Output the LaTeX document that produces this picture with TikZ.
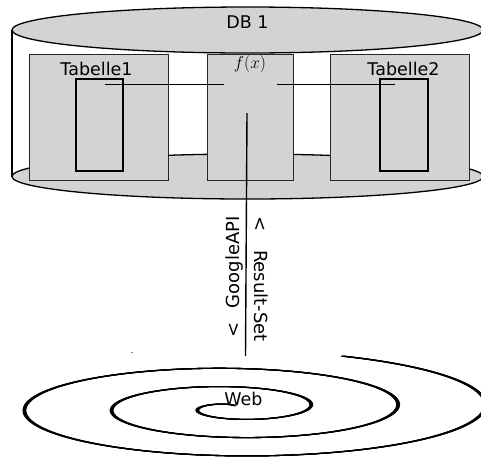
\documentclass[tikz,border=0pt]{standalone}
\usepackage{fontspec}
\setmainfont{DejaVu Sans}
\definecolor{dbgray}{RGB}{211,211,211}
\begin{document}
\begin{tikzpicture}[x=1pt,y=-1pt,
  disc/.style={fill=dbgray,draw=black,line width=1.3pt},
  tablebox/.style={draw=black!85,fill=dbgray,line width=1pt,inner sep=0pt},
  keybox/.style={draw=black,line width=1.4pt,inner sep=0pt},
  link/.style={draw=black,line width=1.4pt},
  lbl/.style={inner sep=0pt,font=\fontsize{17.5}{20}\selectfont},
  sidelbl/.style={inner sep=0pt,font=\fontsize{18}{21}\selectfont},
  spiralpen/.style={draw=black,line width=1.1pt,line join=round}]
\useasboundingbox (0,0) rectangle (481,456);
\fill[white] (0,0) rectangle (481,456);
\clip (0,0) rectangle (481,456);

% database cylinder
\draw[disc] (247.5,176.5) ellipse [x radius=235.5, y radius=22.5];
\draw[black,line width=1.3pt] (12,30) -- (12,176.5);
\draw[disc] (247.5,30) ellipse [x radius=235.5, y radius=23];
\node[lbl] (db) at (247.5,22) {DB 1};

% tables and function
\node[tablebox,minimum width=139pt,minimum height=126pt] (t1) at (98.5,117.5) {};
\node[tablebox,minimum width=86pt,minimum height=126pt] (fx) at (250,117.5) {};
\node[tablebox,minimum width=139pt,minimum height=126pt] (t2) at (399.5,117.5) {};
\node[keybox,minimum width=47pt,minimum height=92pt] (k1) at (99.5,125) {};
\node[keybox,minimum width=48pt,minimum height=92pt] (k2) at (404,125) {};
\node[lbl] (t1lbl) at (96.5,69) {Tabelle1};
\node[lbl] (t2lbl) at (403.5,69) {Tabelle2};
\node[inner sep=0pt,font=\fontsize{18}{21}\selectfont] (fxlbl) at (250,64) {$f(x)$};

% links between the tables and the function
\coordinate (k1in) at (105,84.5);
\coordinate (fxl) at (224,84.5);
\coordinate (fxr) at (277,84.5);
\coordinate (k2in) at (395,84.5);
\coordinate (fxin) at (247,113);
\coordinate (webtop) at (245.5,356);
\draw[link] (k1in) -- (fxl);
\draw[link] (fxr) -- (k2in);
\draw[link] (fxin) -- (webtop);

\node[sidelbl,rotate=90] (api) at (234.5,277) {<\hspace{0.8em}GoogleAPI};
\node[sidelbl,rotate=-90] (res) at (261,279) {<\hspace{1.05em}Result-Set};

% the web as a spiral drawn with a broad horizontal nib
\foreach \dx in {-1.4,-0.7,0,0.7,1.4}{
  \draw[spiralpen,xshift=\dx pt] plot[smooth,samples=420,domain=1.35:20.0,variable=\t]
    ({233.1+(13.93*\t-10.6)*cos(\t r)},{407.5-0.21*(13.93*\t-10.6)*sin(\t r)});
}
\node[lbl] (web) at (243.5,398.7) {Web};
\fill[black] (132,352.5) circle [radius=0.7];
\end{tikzpicture}
\end{document}
